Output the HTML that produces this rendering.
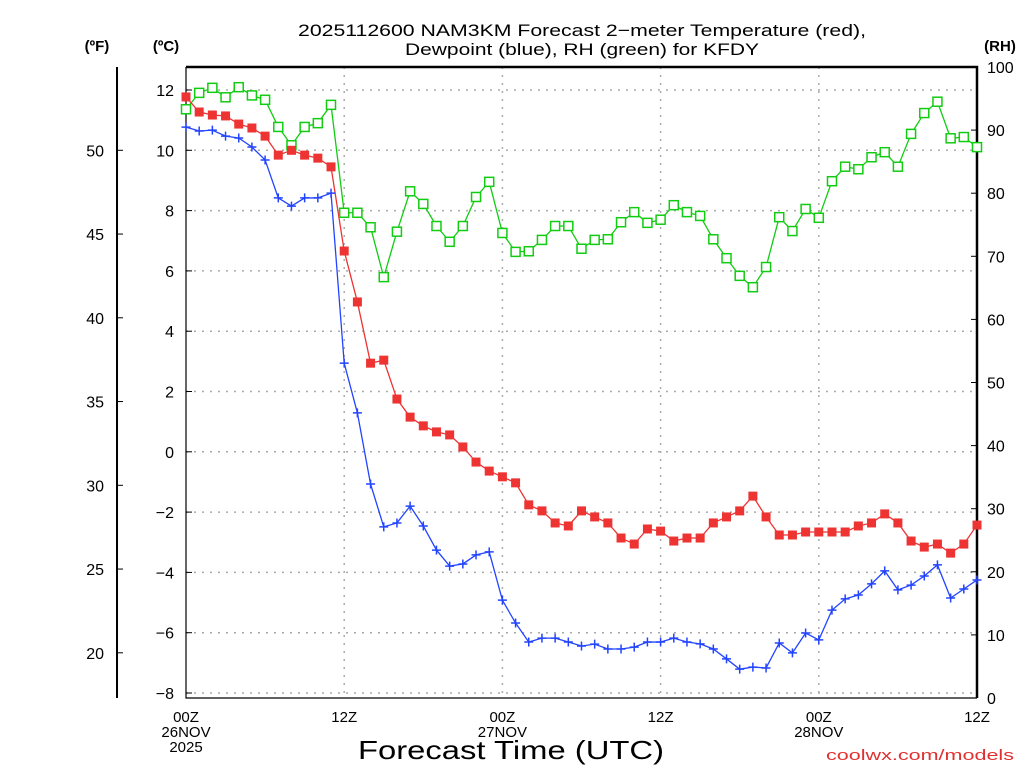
<!DOCTYPE html>
<html><head><meta charset="utf-8"><style>
html,body{margin:0;padding:0;background:#fff;}
svg{display:block;font-family:"Liberation Sans","DejaVu Sans",sans-serif;}
</style></head><body>
<svg id="chart" width="1024" height="768" viewBox="0 0 1024 768" xmlns="http://www.w3.org/2000/svg">
<g id="grid"></g>
<g id="axes"></g>
<g id="series"></g>
<text x="298" y="36" font-size="17" textLength="568" lengthAdjust="spacingAndGlyphs">2025112600 NAM3KM Forecast 2−meter Temperature (red),</text>
<text x="405" y="55" font-size="17" textLength="354" lengthAdjust="spacingAndGlyphs">Dewpoint (blue), RH (green) for KFDY</text>
<text x="97" y="51" font-size="15" font-weight="bold" text-anchor="middle">(ºF)</text>
<text x="166" y="51" font-size="15" font-weight="bold" text-anchor="middle">(ºC)</text>
<text x="1000" y="51" font-size="15" font-weight="bold" text-anchor="middle">(RH)</text>
<text x="358" y="759" font-size="26" textLength="306" lengthAdjust="spacingAndGlyphs">Forecast Time (UTC)</text>
<text x="826" y="760" font-size="15" fill="#e03030" textLength="188" lengthAdjust="spacingAndGlyphs">coolwx.com/models</text>
</svg>
<script>
const hours = [];
for (let i = 0; i <= 60; i++) hours.push(i);
const tempC = [11.77,11.27,11.17,11.14,10.87,10.74,10.47,9.84,10.0,9.84,9.74,9.45,6.66,4.97,2.94,3.04,1.75,1.15,0.86,0.66,0.56,0.16,-0.34,-0.64,-0.83,-1.03,-1.76,-1.96,-2.36,-2.46,-1.96,-2.16,-2.36,-2.86,-3.06,-2.56,-2.63,-2.96,-2.86,-2.86,-2.36,-2.16,-1.96,-1.47,-2.16,-2.76,-2.76,-2.66,-2.66,-2.66,-2.66,-2.46,-2.36,-2.06,-2.36,-2.96,-3.16,-3.06,-3.36,-3.06,-2.43];
const dewC = [10.77,10.64,10.67,10.47,10.41,10.11,9.68,8.42,8.15,8.42,8.42,8.58,2.94,1.29,-1.07,-2.49,-2.36,-1.80,-2.46,-3.26,-3.79,-3.72,-3.42,-3.32,-4.92,-5.68,-6.31,-6.18,-6.18,-6.31,-6.44,-6.38,-6.54,-6.54,-6.48,-6.31,-6.31,-6.18,-6.31,-6.37,-6.54,-6.87,-7.21,-7.14,-7.17,-6.34,-6.67,-6.01,-6.24,-5.25,-4.88,-4.75,-4.38,-3.95,-4.58,-4.42,-4.12,-3.75,-4.85,-4.55,-4.25];
const rh = [93.3,95.9,96.7,95.2,96.8,95.5,94.8,90.5,87.6,90.5,91.1,94.0,76.9,76.9,74.6,66.7,73.9,80.3,78.3,74.8,72.3,74.8,79.4,81.8,73.7,70.7,70.8,72.6,74.8,74.8,71.2,72.6,72.7,75.4,77.0,75.3,75.8,78.1,77.0,76.4,72.7,69.7,66.9,65.1,68.3,76.2,74.0,77.5,76.1,81.9,84.2,83.8,85.7,86.5,84.2,89.4,92.7,94.5,88.7,88.9,87.3];
const cTicks = [12,10,8,6,4,2,0,-2,-4,-6,-8];
const fTicks = [50,45,40,35,30,25,20];
const rhTicks = [0,10,20,30,40,50,60,70,80,90,100];
const xTickHours = [0,12,24,36,48,60];
const xTickLabels = [["00Z","26NOV","2025"],["12Z"],["00Z","27NOV"],["12Z"],["00Z","28NOV"],["12Z"]];

const X0=186,X1=977,Y0=67,Y1=698;
const xS = h => X0 + (X1-X0)*h/60;
const cS = c => 90 + (12-c)*(693-90)/20;
const fS = f => cS((f-32)*5/9);
const rS = r => Y1 - (Y1-Y0)*r/100;
const NS="http://www.w3.org/2000/svg";
function mk(tag, attrs, parent){const e=document.createElementNS(NS,tag);for(const k in attrs)e.setAttribute(k,attrs[k]);parent.appendChild(e);return e;}
const grid=document.getElementById('grid'), axes=document.getElementById('axes'), ser=document.getElementById('series');

cTicks.forEach(c=>{
  const y=cS(c);
  const g=mk('line',{x1:X0,x2:X1,y1:y,y2:y,stroke:'#aaa','stroke-dasharray':'2,6','stroke-width':1.5},grid);
  
  
  const t=mk('line',{x1:X0,x2:X0+6,y1:y,y2:y,stroke:'#000'},axes);
  
  
  const l=mk('text',{x:174,y:y+6,'font-size':16,'text-anchor':'end'},axes);
  l.textContent=(c<0?'−':'')+Math.abs(c);
  
  
});
xTickHours.forEach((h,i)=>{
  const x=xS(h);
  if(h>0&&h<60){
    const g=mk('line',{x1:x,x2:x,y1:Y0,y2:Y1,stroke:'#aaa','stroke-dasharray':'2,6','stroke-width':1.5},grid);
    
    
  }
  xTickLabels[i].forEach((s,j)=>{
    const t=mk('text',{x:x,y:722+j*15,'font-size':15,'text-anchor':'middle'},axes);
    t.textContent=s;
    
    
  });
});
fTicks.forEach(f=>{
  const y=fS(f);
  const t=mk('line',{x1:117,x2:123,y1:y,y2:y,stroke:'#000'},axes);
  
  
  const l=mk('text',{x:104,y:y+6,'font-size':16,'text-anchor':'end'},axes);
  l.textContent=f;
  
  
});
rhTicks.forEach(r=>{
  const y=rS(r);
  const t=mk('line',{x1:X1-6,x2:X1,y1:y,y2:y,stroke:'#000'},axes);
  
  
  const l=mk('text',{x:987,y:y+6,'font-size':16},axes);
  l.textContent=r;
  
  
});
const fa=mk('line',{x1:117,x2:117,y1:Y0,y2:Y1,stroke:'#000','stroke-width':2},axes);


const fr=mk('path',{d:`M${X0},${Y0}H${X1}V${Y1}`,fill:'none',stroke:'#000','stroke-width':2.5},axes);


const fl=mk('path',{d:`M${X0},${Y0}V${Y1}H${X1}`,fill:'none',stroke:'#000','stroke-width':1.2},axes);



function line(vals, sc, color, name){
  const p=mk('polyline',{points:vals.map((v,i)=>xS(hours[i])+','+sc(v)).join(' '),fill:'none',stroke:color,'stroke-width':1.3},ser);
  
  
}
line(rh,rS,'#11cc11','rh-line');
line(dewC,cS,'#2244ff','dewpoint-line');
line(tempC,cS,'#ee3333','temperature-line');
rh.forEach((v,i)=>{
  const m=mk('rect',{x:xS(hours[i])-4.5,y:rS(v)-4.5,width:9,height:9,fill:'#fff',stroke:'#11cc11','stroke-width':1.5},ser);
  
  
});
dewC.forEach((v,i)=>{
  const x=xS(hours[i]),y=cS(v);
  const m=mk('path',{d:`M${x-4.5},${y}H${x+4.5}M${x},${y-4.5}V${y+4.5}`,stroke:'#2244ff','stroke-width':1.5},ser);
  
  
});
tempC.forEach((v,i)=>{
  const m=mk('rect',{x:xS(hours[i])-4.5,y:cS(v)-4.5,width:9,height:9,fill:'#ee3333'},ser);
  
  
});
</script>
</body></html>
